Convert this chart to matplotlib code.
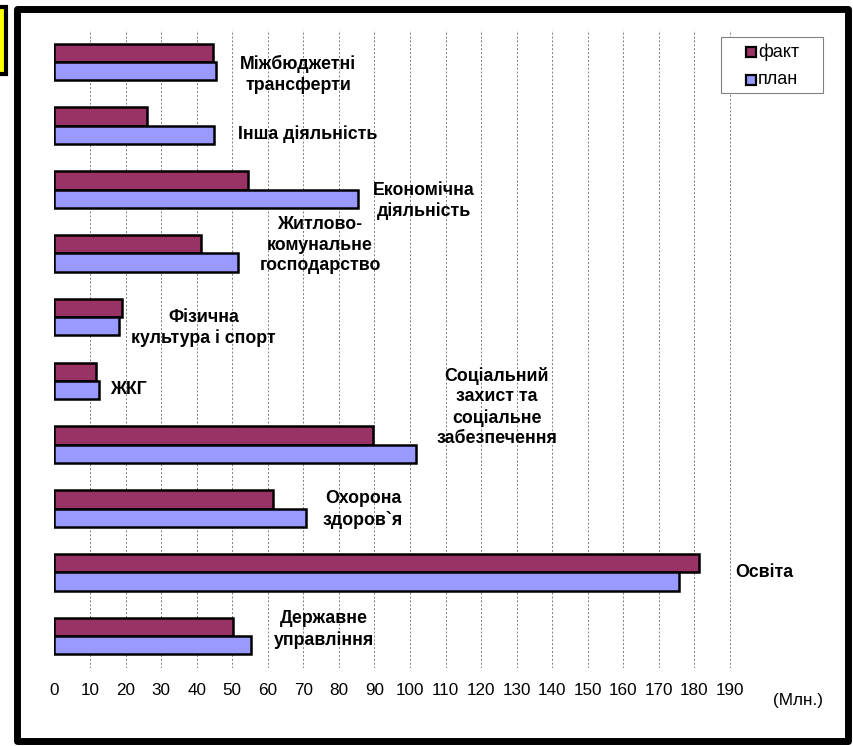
import matplotlib
matplotlib.use("Agg")
import matplotlib.pyplot as plt
from matplotlib.patches import Rectangle
import numpy as np

# Categories listed bottom to top, as the bar chart draws them
categories = ["Державне\nуправління", "Освіта", "Охорона\nздоров`я",
              "Соціальний\nзахист та\nсоціальне\nзабезпечення", "ЖКГ",
              "Фізична\nкультура і спорт", "Житлово-\nкомунальне\nгосподарство",
              "Економічна\nдіяльність", "Інша діяльність", "Міжбюджетні\nтрансферти"]
fact = [50.3, 181.2, 61.4, 89.5, 11.6, 19.1, 41.1, 54.5, 26.0, 44.6]
plan = [55.2, 175.6, 70.7, 101.6, 12.4, 18.1, 51.7, 85.5, 44.8, 45.4]
x_ticks = list(range(0, 200, 10))
series_names = ["факт", "план"]

# Where each category caption sits (data units: x value, category position)
label_pos = [(75.8, 0.10), (199.7, 1.00), (86.8, 1.99), (124.4, 3.59), (20.9, 3.86),
             (42.0, 4.83), (74.7, 6.13), (103.9, 6.82), (71.3, 7.87), (68.5, 8.80)]

fact_color = "#993366"
plan_color = "#9999FF"

plt.rcParams["font.family"] = ["Liberation Sans", "DejaVu Sans"]

W, H = 854, 746
fig = plt.figure(figsize=(W / 100, H / 100), dpi=100)
ax = fig.add_axes([54.5 / W, (H - 668) / H, (840 - 54.5) / W, (668 - 30) / H])

y = np.arange(len(categories))
bar_h = 0.287
ax.barh(y + bar_h / 2, fact, height=bar_h, color=fact_color, edgecolor="black", linewidth=1.8, zorder=3)
ax.barh(y - bar_h / 2, plan, height=bar_h, color=plan_color, edgecolor="black", linewidth=1.8, zorder=3)

ax.set_xlim(0, (840 - 54.5) / 3.555)
ax.set_ylim(-0.5, len(categories) - 0.5)

# dotted vertical gridlines, none at zero
ax.vlines(x_ticks[1:], -0.5, len(categories) - 0.5, colors="#7a7a7a",
          linestyles=(0, (2, 2)), linewidth=0.7, zorder=1)

ax.set_xticks(x_ticks)
ax.set_xticklabels([str(t) for t in x_ticks])
ax.set_yticks([])
ax.tick_params(axis="x", length=0, pad=11, labelsize=12.3)
for s in ax.spines.values():
    s.set_visible(False)

for name, (lx, ly) in zip(categories, label_pos):
    ax.text(lx, ly, name, ha="center", va="center", fontsize=12.8, fontweight="bold",
            linespacing=1.28, zorder=4)

fig.text(798 / W, (H - 700) / H, "(Млн.)", ha="center", va="center", fontsize=12.3)

# legend drawn by hand: Excel-style box with the entries centred in it
fig.patches.append(Rectangle((721 / W, (H - 93) / H), 102 / W, 56 / H, transform=fig.transFigure,
                             facecolor="white", edgecolor="#808080", linewidth=0.8, zorder=5))
for i, (name, col) in enumerate(zip(series_names, [fact_color, plan_color])):
    yc = 52 + 28 * i
    fig.patches.append(Rectangle((746 / W, (H - yc - 5) / H), 10 / W, 10 / H,
                                 transform=fig.transFigure, facecolor=col,
                                 edgecolor="black", linewidth=1.6, zorder=6))
    fig.text(758 / W, (H - yc) / H, name, ha="left", va="center", fontsize=13, zorder=6)

# thick black frame around the whole chart
fig.patches.append(Rectangle((17.5 / W, (H - 741) / H), (848.5 - 17.5) / W, (741 - 8.5) / H,
                             transform=fig.transFigure, fill=False, edgecolor="black",
                             linewidth=5, joinstyle="round"))
# clipped yellow box at the top-left corner
fig.patches.append(Rectangle((-10 / W, (H - 74) / H), 16 / W, 67 / H,
                             transform=fig.transFigure, facecolor="#FFFF00",
                             edgecolor="black", linewidth=3))

fig.savefig("out.png", dpi=100)
